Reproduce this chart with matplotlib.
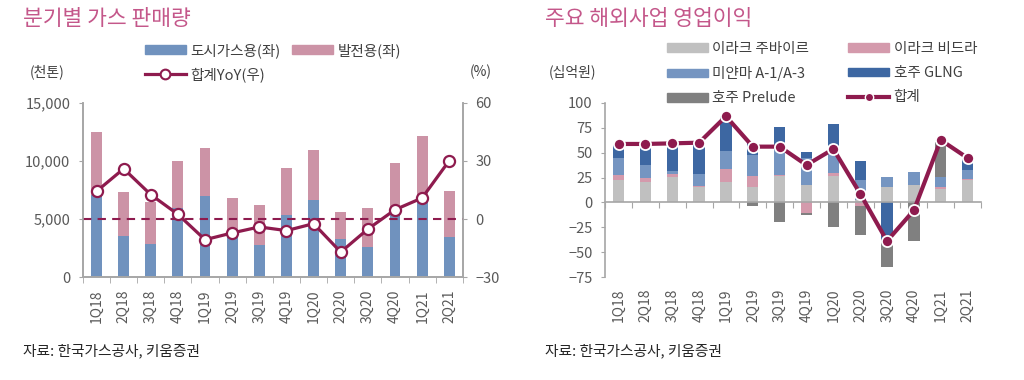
#!/usr/bin/env python3
"""
분기별 가스 판매량 / 주요 해외사업 영업이익 (1Q18 ~ 2Q21)
"""

import numpy as np
import matplotlib.pyplot as plt
from matplotlib.patches import Patch
from matplotlib.lines import Line2D

# Data
quarters = ['1Q18', '2Q18', '3Q18', '4Q18', '1Q19', '2Q19', '3Q19',
            '4Q19', '1Q20', '2Q20', '3Q20', '4Q20', '1Q21', '2Q21']

# 가스 판매량 (천톤)
city_gas = [7070, 3500, 2820, 5920, 6980, 3600, 2730,
            5370, 6610, 3250, 2590, 5500, 6500, 3420]
power_gen = [5400, 3800, 3650, 4080, 4170, 3210, 3480,
             4060, 4310, 2380, 3330, 4360, 5630, 3970]
sales_yoy = [14.3, 26.0, 12.6, 2.4, -10.7, -7.2, -4.1,
             -6.0, -2.4, -17.1, -5.2, 4.8, 10.9, 30.2]

# 해외사업 영업이익 (십억원)
zubair = [22.1, 20.8, 25.5, 15.9, 20.8, 15.5, 26.8,
          17.2, 26.8, 2.7, 15.5, 17.8, 13.8, 22.1]
badra = [5.1, 3.4, 3.1, 0.9, 12.8, 11.3, 0.7,
         -10.6, 2.8, -4.0, 0.0, 0.0, 1.7, 1.7]
myanmar = [17.8, 13.1, 3.3, 12.1, 18.1, 21.2, 28.2,
           27.5, 26.8, 19.5, 10.0, 12.5, 10.0, 8.8]
glng = [12.4, 21.5, 27.9, 30.9, 34.9, 11.8, 19.8,
        5.7, 22.5, 19.8, -39.1, 0.0, 0.0, 11.1]
prelude = [0.0, 0.0, 0.0, 0.0, 0.0, -3.7, -19.3,
           -1.8, -25.0, -29.1, -26.0, -38.8, 35.5, 0.0]
op_total = [58.8, 58.8, 59.4, 60.1, 86.6, 56.1, 56.1,
            37.6, 53.7, 8.8, -38.8, -7.9, 62.8, 44.7]

# Colors
C_TITLE = '#C4578A'
C_TEXT = '#404040'
C_TICK = '#595959'
C_AXIS = '#A6A6A6'
C_CITY = '#7092BE'
C_POWER = '#CC93A6'
C_LINE = '#8E1B4E'
C_ZUBAIR = '#C0C0C0'
C_BADRA = '#D49AAC'
C_MYANMAR = '#7595C1'
C_GLNG = '#3D67A2'
C_PRELUDE = '#808080'

plt.rcParams['font.family'] = ['Noto Sans CJK KR', 'DejaVu Sans']
plt.rcParams['font.size'] = 10


def style_axis(ax):
    for side in ax.spines:
        ax.spines[side].set_color(C_AXIS)
        ax.spines[side].set_linewidth(1.2)
    ax.tick_params(colors=C_AXIS, labelcolor=C_TICK, labelsize=10.5)


def draw_sales(fig):
    ax = fig.add_axes([0.081, 0.271, 0.371, 0.458])
    x = np.arange(len(quarters))
    w = 0.4

    ax.bar(x, city_gas, w, color=C_CITY, zorder=2)
    ax.bar(x, power_gen, w, bottom=city_gas, color=C_POWER, zorder=2)

    ax.set_xlim(-0.5, len(quarters) - 0.5)
    ax.set_ylim(0, 15000)
    ax.set_yticks([0, 5000, 10000, 15000])
    ax.set_yticklabels(['0', '5,000', '10,000', '15,000'])
    ax.set_xticks(x)
    ax.set_xticklabels(quarters, rotation=90)
    ax.set_xticks(np.arange(len(quarters) + 1) - 0.5, minor=True)
    ax.spines['top'].set_visible(False)
    style_axis(ax)
    ax.tick_params(axis='x', which='major', length=0, pad=9, labelsize=10)
    ax.tick_params(axis='x', which='minor', length=4, direction='out',
                   color=C_AXIS)
    ax.tick_params(axis='y', length=3, pad=6)

    ax2 = ax.twinx()
    ax2.axhline(0, color=C_LINE, linestyle=(0, (4, 3)), linewidth=1.5,
                zorder=1)
    ax2.plot(x, sales_yoy, '-o', color=C_LINE, linewidth=2.3,
             markersize=8, markerfacecolor='white', markeredgecolor=C_LINE,
             markeredgewidth=1.6, zorder=3)
    ax2.set_ylim(-30, 60)
    ax2.set_yticks([-30, 0, 30, 60])
    ax2.spines['top'].set_visible(False)
    style_axis(ax2)
    ax2.tick_params(axis='y', length=3, pad=6)

    fig.text(23 / 1024, 1 - 19 / 380, '분기별 가스 판매량', color=C_TITLE,
             fontsize=15.5, va='center')
    fig.text(30 / 1024, 1 - 72 / 380, '(천톤)', color=C_TEXT, fontsize=10,
             va='center')
    fig.text(470 / 1024, 1 - 72 / 380, '(%)', color=C_TEXT, fontsize=10,
             va='center')
    fig.text(23 / 1024, 1 - 351 / 380, '자료: 한국가스공사, 키움증권',
             color='#262626', fontsize=10.6, va='center')

    handles = [Patch(color=C_CITY, label='도시가스용(좌)'),
               Line2D([], [], color=C_LINE, linewidth=2.3, marker='o',
                      markersize=7, markerfacecolor='white',
                      markeredgewidth=1.5, label='합계YoY(우)'),
               Patch(color=C_POWER, label='발전용(좌)')]
    fig.legend(handles=handles, ncol=2, loc='upper left',
               bbox_to_anchor=(145 / 1024, 1 - 43 / 380), frameon=False,
               fontsize=10.5, handlelength=2.8, handleheight=0.55,
               handletextpad=0.3, columnspacing=0.8, labelspacing=0.62,
               borderaxespad=0, borderpad=0, labelcolor=C_TEXT)


def draw_overseas(fig):
    ax = fig.add_axes([0.591, 0.271, 0.367, 0.458])
    x = np.arange(len(quarters))
    w = 0.42

    series = [(zubair, C_ZUBAIR), (badra, C_BADRA), (myanmar, C_MYANMAR),
              (glng, C_GLNG), (prelude, C_PRELUDE)]
    pos_bottom = np.zeros(len(quarters))
    neg_bottom = np.zeros(len(quarters))
    for vals, color in series:
        v = np.array(vals)
        bottom = np.where(v >= 0, pos_bottom, neg_bottom)
        ax.bar(x, v, w, bottom=bottom, color=color, zorder=2)
        pos_bottom += np.clip(v, 0, None)
        neg_bottom += np.clip(v, None, 0)

    ax.plot(x, op_total, '-o', color=C_LINE, linewidth=3, markersize=8,
            markerfacecolor=C_LINE, markeredgecolor='white',
            markeredgewidth=1.3, zorder=3)

    ax.set_xlim(-0.5, len(quarters) - 0.5)
    ax.set_ylim(-75, 100)
    ax.set_yticks(np.arange(-75, 101, 25))
    ax.set_xticks(np.arange(len(quarters) + 1) - 0.5)
    ax.set_xticklabels([])
    ax.spines['top'].set_visible(False)
    ax.spines['right'].set_visible(False)
    ax.spines['bottom'].set_position(('data', 0))
    style_axis(ax)
    ax.tick_params(axis='x', length=4, direction='out')
    ax.tick_params(axis='y', length=3, pad=6)
    for xi, q in zip(x, quarters):
        ax.text(xi, -0.065, q, transform=ax.get_xaxis_transform(),
                rotation=90, ha='center', va='top', fontsize=10,
                color=C_TICK)

    fig.text(545 / 1024, 1 - 19 / 380, '주요 해외사업 영업이익',
             color=C_TITLE, fontsize=15.5, va='center')
    fig.text(549 / 1024, 1 - 72 / 380, '(십억원)', color=C_TEXT,
             fontsize=10, va='center')
    fig.text(545 / 1024, 1 - 351 / 380, '자료: 한국가스공사, 키움증권',
             color='#262626', fontsize=10.6, va='center')

    handles = [Patch(color=C_ZUBAIR, label='이라크 주바이르'),
               Patch(color=C_MYANMAR, label='미얀마 A-1/A-3'),
               Patch(color=C_PRELUDE, label='호주 Prelude'),
               Patch(color=C_BADRA, label='이라크 비드라'),
               Patch(color=C_GLNG, label='호주 GLNG'),
               Line2D([], [], color=C_LINE, linewidth=3, marker='o',
                      markersize=6, markeredgecolor='white',
                      markeredgewidth=1, label='합계')]
    fig.legend(handles=handles, ncol=2, loc='upper left',
               bbox_to_anchor=(667 / 1024, 1 - 42 / 380), frameon=False,
               fontsize=10.5, handlelength=2.8, handleheight=0.55,
               handletextpad=0.3, columnspacing=2.7, labelspacing=0.7,
               borderaxespad=0, borderpad=0, labelcolor=C_TEXT)


def main():
    fig = plt.figure(figsize=(10.24, 3.8), dpi=100)
    draw_sales(fig)
    draw_overseas(fig)
    fig.savefig('out.png', dpi=100)
    plt.close(fig)


if __name__ == "__main__":
    main()
